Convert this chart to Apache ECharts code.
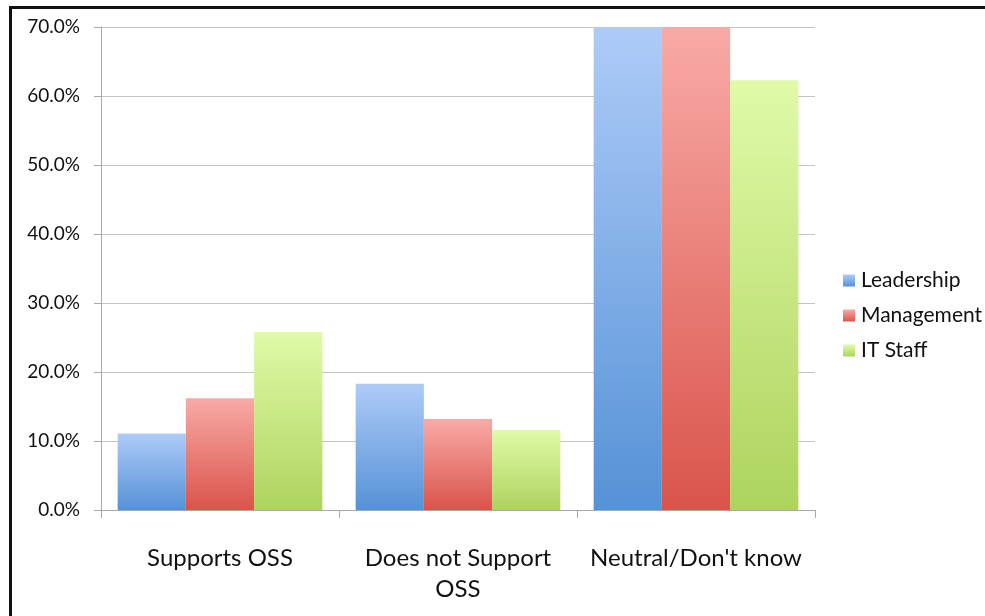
<!DOCTYPE html>
<html>
<head>
<meta charset="utf-8">
<script src="https://cdn.jsdelivr.net/npm/echarts@6/dist/echarts.min.js"></script>
<style>
  html, body { margin: 0; padding: 0; background: #fff; }
  /* black frame along the top and left edges */
  #frame {
    position: absolute; left: 9px; top: 6px; right: 0; bottom: 0;
    border-top: 3px solid #111; border-left: 3px solid #111;
  }
  #main { position: absolute; left: 0; top: 0; width: 985px; height: 616px; }
</style>
</head>
<body>
<div id="frame"></div>
<div id="main"></div>
<script>
// categories and values (percent)
var categories = ['Supports OSS', 'Does not Support\nOSS', "Neutral/Don't know"];
var leadership = [11.1, 18.3, 70.6];
var management = [16.2, 13.2, 70.6];
var itStaff = [25.8, 11.6, 62.3];
var yTicks = [0, 10, 20, 30, 40, 50, 60, 70];

function grad(top, bottom) {
  return new echarts.graphic.LinearGradient(0, 0, 0, 1, [
    { offset: 0, color: top },
    { offset: 1, color: bottom }
  ]);
}

var font = 'Lato, "Open Sans", sans-serif';
var chart = echarts.init(document.getElementById('main'));
chart.setOption({
  animation: false,
  textStyle: { fontFamily: font },
  grid: { left: 101, right: 170, top: 27, bottom: 106 },
  legend: {
    orient: 'vertical',
    left: 838, top: 265,
    itemWidth: 12, itemHeight: 12, itemGap: 14,
    icon: 'rect',
    textStyle: { fontSize: 21, color: '#111', fontFamily: font, padding: [0, 0, 0, 1] },
    data: ['Leadership', 'Management', 'IT Staff']
  },
  xAxis: {
    type: 'category',
    data: categories,
    axisLine: { lineStyle: { color: '#a8a8a8', width: 1 } },
    axisTick: { show: true, length: 8, interval: 0, lineStyle: { color: '#a8a8a8' } },
    axisLabel: { fontSize: 24, color: '#111', margin: 33, lineHeight: 31, interval: 0, fontFamily: font }
  },
  yAxis: {
    type: 'value',
    min: yTicks[0], max: yTicks[yTicks.length - 1], interval: 10,
    axisLine: { show: true, lineStyle: { color: '#a8a8a8' } },
    axisTick: { show: true, length: 7, lineStyle: { color: '#a8a8a8' } },
    splitLine: { lineStyle: { color: '#c4c4c4', width: 1 } },
    axisLabel: {
      fontSize: 19, color: '#111', margin: 21, fontFamily: font,
      formatter: function (v) { return v.toFixed(1) + '%'; }
    }
  },
  series: [
    {
      name: 'Leadership', type: 'bar', data: leadership,
      barGap: '0%', barCategoryGap: '14%', clip: true,
      itemStyle: { color: grad('#aecbf8', '#5592d6') }
    },
    {
      name: 'Management', type: 'bar', data: management,
      barGap: '0%', barCategoryGap: '14%', clip: true,
      itemStyle: { color: grad('#f9aaa6', '#d9544b') }
    },
    {
      name: 'IT Staff', type: 'bar', data: itStaff,
      barGap: '0%', barCategoryGap: '14%', clip: true,
      itemStyle: { color: grad('#e0faa8', '#aed35e') }
    }
  ]
});
</script>
</body>
</html>
